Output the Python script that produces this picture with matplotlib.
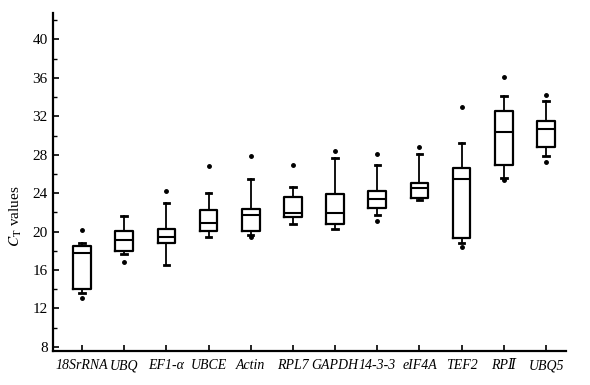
import matplotlib
matplotlib.use('Agg')
import matplotlib.pyplot as plt
from matplotlib.ticker import MultipleLocator

plt.rcParams['font.family'] = ['Liberation Serif', 'DejaVu Serif']
plt.rcParams['mathtext.fontset'] = 'stix'

# 基因名称
genes = ['18SrRNA', 'UBQ', 'EF1-α', 'UBCE', 'Actin', 'RPL7', 'GAPDH',
         '14-3-3', 'eIF4A', 'TEF2', 'RPⅡ', 'UBQ5']
# 箱线图统计量
whislo = [13.57, 17.67, 16.52, 19.48, 19.61, 20.76, 20.24, 21.73, 23.26, 18.85, 25.62, 27.88]
q1 = [13.99, 17.95, 18.85, 20.03, 20.06, 21.52, 20.83, 22.50, 23.54, 19.33, 26.90, 28.80]
med = [17.74, 19.13, 19.44, 20.94, 21.70, 21.98, 21.98, 23.44, 24.58, 25.45, 30.37, 30.64]
q3 = [18.50, 20.03, 20.24, 22.22, 22.32, 23.60, 23.96, 24.20, 25.10, 26.60, 32.56, 31.52]
whishi = [18.85, 21.63, 23.02, 23.99, 25.52, 24.65, 27.64, 26.90, 28.12, 29.27, 34.12, 33.60]
fliers = [[13.08, 20.17], [16.87], [24.27], [26.83], [27.88, 19.40], [26.94], [28.40],
          [21.07, 28.12], [28.85], [18.38, 32.92], [25.40, 36.10], [27.25, 34.20]]

stats = []
for i in range(len(genes)):
    stats.append({'whislo': whislo[i], 'q1': q1[i], 'med': med[i], 'q3': q3[i],
                  'whishi': whishi[i], 'fliers': fliers[i]})

fig = plt.figure(figsize=(5.9, 3.85), dpi=100)
ax = fig.add_axes([0.089, 0.089, 0.870, 0.876])
pos = list(range(1, len(genes) + 1))
ax.bxp(stats, positions=pos, widths=0.42, capwidths=0.13,
       boxprops=dict(color='black', linewidth=1.6),
       medianprops=dict(color='black', linewidth=1.5),
       whiskerprops=dict(color='black', linewidth=1.3),
       capprops=dict(color='black', linewidth=2.0),
       flierprops=dict(marker='o', markersize=2.5, markerfacecolor='black',
                       markeredgecolor='black'))

ax.set_xlim(0.30, 12.47)
ax.set_ylim(7.6, 42.7)
ax.yaxis.set_major_locator(MultipleLocator(4))
ax.yaxis.set_minor_locator(MultipleLocator(2))
ax.set_yticks(range(8, 41, 4))
ax.set_xticks(pos)
ax.set_xticklabels(genes, fontstyle='italic', fontsize=10)
ax.tick_params(axis='y', which='major', direction='in', length=4, width=1.2, labelsize=11)
ax.tick_params(axis='y', which='minor', direction='in', length=3, width=1.0)
ax.tick_params(axis='x', direction='in', length=4, width=1.2, pad=6)
ax.set_ylabel('$C_\\mathrm{T}$ values', fontsize=11)
ax.yaxis.set_label_coords(-0.055, 0.40)
for s in ['top', 'right']:
    ax.spines[s].set_visible(False)
ax.spines['left'].set_linewidth(1.6)
ax.spines['bottom'].set_linewidth(1.6)

plt.savefig('out.png', dpi=100)
